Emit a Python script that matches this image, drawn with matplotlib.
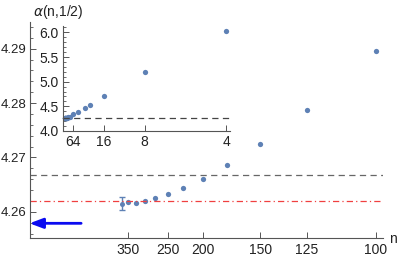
import numpy as np
import matplotlib.pyplot as plt
from matplotlib.ticker import MultipleLocator

# system sizes and estimates of alpha(n, 1/2)
n_main = [375, 350, 325, 300, 275, 250, 225, 200, 175, 150, 125, 100]
alpha_main = [4.2615, 4.2618, 4.2617, 4.2620, 4.2625, 4.2632,
              4.2644, 4.2660, 4.2686, 4.2724, 4.2787, 4.2896]
alpha_err = [0.0012, 0, 0, 0, 0, 0, 0, 0, 0, 0, 0, 0]

n_small = [64, 44, 30, 24, 16, 8, 4]
alpha_small = [4.339, 4.386, 4.46, 4.534, 4.717, 5.198, 6.03]

limit_dashed = 4.2667
limit_dashdot = 4.2620
arrow_value = 4.2579

main_ticks = [350, 250, 200, 150, 125, 100]
inset_xticks = [64, 16, 8, 4]

plt.rcParams['font.family'] = ['Liberation Sans', 'DejaVu Sans']
pt_color = '#5E81B5'
ax_color = '#555555'
fs = 10

fig = plt.figure(figsize=(3.99, 2.57), dpi=100)
W, H = 399, 257
ax = fig.add_axes([29.5 / W, (H - 238) / H, (383 - 29.5) / W, (238 - 22) / H])

x_main = 1 / np.array(n_main)
ax.errorbar(x_main[:1], alpha_main[:1], yerr=alpha_err[:1], fmt='o', color=pt_color,
            ms=3.6, mec='none', capsize=2.2, elinewidth=1, capthick=1)
ax.plot(x_main[1:], alpha_main[1:], 'o', color=pt_color, ms=3.8, mec='none')
ax.axhline(limit_dashed, color='#666666', lw=0.9, ls=(0, (5, 3.5)))
ax.axhline(limit_dashdot, color='#F04040', lw=0.9, ls=(0, (5, 2.5, 1, 2.5)))
ax.annotate('', xy=(0, arrow_value), xytext=(0.00149, arrow_value),
            arrowprops=dict(arrowstyle='-|>,head_length=0.8,head_width=0.3',
                            color='#0A0AF0', lw=2, shrinkA=0, shrinkB=0))

ax.set_xlim(0, 0.010203)
ax.set_ylim(4.2552, 4.2949)
ax.set_xticks([1 / n for n in main_ticks])
ax.set_xticklabels([str(n) for n in main_ticks])
ax.yaxis.set_major_locator(MultipleLocator(0.01))
ax.yaxis.set_minor_locator(MultipleLocator(0.002))
ax.yaxis.set_major_formatter(lambda v, p: f'{v:.2f}')
for s in ['top', 'right']:
    ax.spines[s].set_visible(False)
for s in ['left', 'bottom']:
    ax.spines[s].set_color(ax_color)
    ax.spines[s].set_linewidth(0.8)
ax.tick_params(direction='in', length=4, width=0.7, color=ax_color,
               labelsize=fs, labelcolor='#222222', pad=3.5)
ax.tick_params(axis='y', labelsize=9.5, pad=2)
ax.tick_params(which='minor', direction='in', length=2, width=0.6, color=ax_color)

fig.text(33 / W, 1 - 12 / H, r'$\alpha$(n,1/2)', fontsize=fs, color='#222222',
         va='center', ha='left')
fig.text(389 / W, 1 - 239 / H, 'n', fontsize=fs, color='#222222', va='center', ha='left')

# inset with the small sizes
ins = fig.add_axes([63 / W, (H - 131) / H, (230 - 63) / W, (131 - 26) / H])
ins.patch.set_alpha(0)
x_all = np.concatenate([1 / np.array(n_small), x_main])
y_all = np.concatenate([alpha_small, alpha_main])
ins.plot(x_all, y_all, 'o', color=pt_color, ms=3.8, mec='none', clip_on=False)
ins.axhline(limit_dashed, color='#444444', lw=0.9, ls=(0, (5, 3.5)))
ins.set_xlim(0, 0.256)
ins.set_ylim(4.0, 6.13)
ins.set_xticks([1 / n for n in inset_xticks])
ins.set_xticklabels([str(n) for n in inset_xticks])
ins.yaxis.set_major_locator(MultipleLocator(0.5))
ins.yaxis.set_minor_locator(MultipleLocator(0.1))
ins.yaxis.set_major_formatter(lambda v, p: f'{v:.1f}')
for s in ['top', 'right']:
    ins.spines[s].set_visible(False)
for s in ['left', 'bottom']:
    ins.spines[s].set_color(ax_color)
    ins.spines[s].set_linewidth(0.8)
ins.tick_params(direction='in', length=4, width=0.7, color=ax_color,
                labelsize=fs, labelcolor='#222222', pad=3)
ins.tick_params(which='minor', direction='in', length=2, width=0.6, color=ax_color)

fig.savefig('out.png', dpi=100)
